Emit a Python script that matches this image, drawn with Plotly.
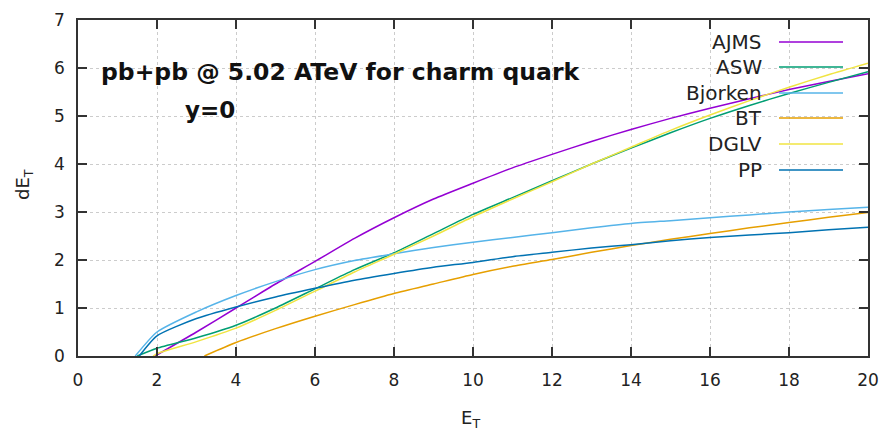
import plotly.graph_objects as go

# ---------------- data ----------------
series_names = ["AJMS", "ASW", "Bjorken", "BT", "DGLV", "PP"]

x_ajms = [1.95, 3, 4, 5, 6, 7, 8, 9, 10, 11, 12, 13, 14, 15, 16, 17, 18, 19, 20]
y_ajms = [0.0, 0.5, 1.0, 1.5, 1.97, 2.45, 2.88, 3.27, 3.6, 3.92, 4.2, 4.47, 4.72, 4.95, 5.16, 5.36, 5.55, 5.72, 5.88]

x_asw = [1.5, 2, 3, 4, 5, 6, 7, 8, 9, 10, 11, 12, 13, 14, 15, 16, 17, 18, 19, 20]
y_asw = [0.0, 0.16, 0.38, 0.64, 1.0, 1.4, 1.8, 2.15, 2.55, 2.95, 3.3, 3.65, 4.0, 4.33, 4.65, 4.95, 5.22, 5.47, 5.7, 5.92]

x_bjorken = [1.45, 2, 3, 4, 5, 6, 7, 8, 9, 10, 11, 12, 13, 14, 15, 16, 17, 18, 19, 20]
y_bjorken = [0.0, 0.5, 0.92, 1.26, 1.55, 1.8, 1.99, 2.13, 2.26, 2.37, 2.47, 2.57, 2.67, 2.76, 2.82, 2.88, 2.94, 3.0, 3.05, 3.1]

x_bt = [3.2, 4, 5, 6, 7, 8, 9, 10, 11, 12, 13, 14, 15, 16, 17, 18, 19, 20]
y_bt = [0.0, 0.28, 0.57, 0.83, 1.07, 1.3, 1.5, 1.7, 1.87, 2.01, 2.16, 2.3, 2.43, 2.55, 2.67, 2.78, 2.89, 2.99]

x_dglv = [1.9, 2, 3, 4, 5, 6, 7, 8, 9, 10, 11, 12, 13, 14, 15, 16, 17, 18, 19, 20]
y_dglv = [0.0, 0.05, 0.3, 0.58, 0.95, 1.35, 1.75, 2.12, 2.5, 2.9, 3.27, 3.63, 4.0, 4.35, 4.7, 5.02, 5.32, 5.6, 5.86, 6.1]

x_pp = [1.55, 2, 3, 4, 5, 6, 7, 8, 9, 10, 11, 12, 13, 14, 15, 16, 17, 18, 19, 20]
y_pp = [0.0, 0.42, 0.78, 1.02, 1.23, 1.41, 1.58, 1.72, 1.85, 1.95, 2.07, 2.16, 2.25, 2.32, 2.4, 2.47, 2.52, 2.57, 2.63, 2.68]

x_ticks = [0, 2, 4, 6, 8, 10, 12, 14, 16, 18, 20]
y_ticks = [0, 1, 2, 3, 4, 5, 6, 7]

colors = ["#9400D3", "#009E73", "#56B4E9", "#E69F00", "#F0E442", "#0072B2"]

all_x = [x_ajms, x_asw, x_bjorken, x_bt, x_dglv, x_pp]
all_y = [y_ajms, y_asw, y_bjorken, y_bt, y_dglv, y_pp]

FONT = "DejaVu Sans"

fig = go.Figure()
for name, xs, ys, c in zip(series_names, all_x, all_y, colors):
    fig.add_trace(go.Scatter(x=xs, y=ys, mode="lines", name=name,
                             line=dict(color=c, width=1.5, shape="spline", smoothing=0.6),
                             showlegend=False))

# plot area in window pixels: x 78..868, y 20..356
W, H = 790.0, 336.0
L = 78.0
B = 356.0


def px(xw):
    return (xw - L) / W


def py(yw):
    return (B - yw) / H


# manual legend: right-aligned text, sample line to its right (gnuplot style)
row_py = [42, 67, 93, 118, 144, 170]
for name, c, yy in zip(series_names, colors, row_py):
    fig.add_annotation(x=px(764), y=py(yy), xref="paper", yref="paper",
                       text=name, showarrow=False, xanchor="right", yanchor="middle",
                       font=dict(family=FONT, size=20, color="#222"))
    fig.add_shape(type="line", xref="paper", yref="paper",
                  x0=px(779), x1=px(843), y0=py(yy), y1=py(yy),
                  line=dict(color=c, width=1.5))

# in-plot labels
fig.add_annotation(x=px(99), y=py(72), xref="paper", yref="paper",
                   text="<b>pb+pb @ 5.02 ATeV for charm quark</b>", showarrow=False,
                   xanchor="left", yanchor="middle", font=dict(family=FONT, size=23.5, color="#111"))
fig.add_annotation(x=px(210), y=py(110), xref="paper", yref="paper",
                   text="<b>y=0</b>", showarrow=False,
                   xanchor="center", yanchor="middle", font=dict(family=FONT, size=23, color="#111"))

# axis titles
fig.add_annotation(x=px(470), y=py(419), xref="paper", yref="paper",
                   text="E<sub>T</sub>", showarrow=False, xanchor="center", yanchor="middle",
                   font=dict(family=FONT, size=18, color="#222"))
fig.add_annotation(x=px(24), y=py(185), xref="paper", yref="paper",
                   text="dE<sub>T</sub>", showarrow=False, xanchor="center", yanchor="middle",
                   textangle=-90, font=dict(family=FONT, size=18, color="#222"))

axis_common = dict(showline=True, linecolor="#333", linewidth=1.5, mirror="ticks",
                   ticks="inside", ticklen=9, tickwidth=1.5, tickcolor="#333",
                   showgrid=True, gridcolor="#cccccc", griddash="dot", gridwidth=1,
                   zeroline=False, automargin=False,
                   tickfont=dict(family=FONT, size=17, color="#222"))

fig.update_xaxes(range=[0, 20], tickvals=x_ticks, ticktext=[str(v) for v in x_ticks],
                 ticklabelstandoff=8, **axis_common)
fig.update_yaxes(range=[0, 7], tickvals=y_ticks, ticktext=[str(v) for v in y_ticks],
                 ticklabelstandoff=8, **axis_common)

fig.update_layout(width=884, height=432, margin=dict(l=78, r=16, t=20, b=76),
                  plot_bgcolor="white", paper_bgcolor="white", showlegend=False)

# remove the default 8px page margin so the figure sits at the window origin
fig.write_html("out.html", config={"displayModeBar": False},
               post_script="document.body.style.margin='0';document.body.style.overflow='hidden';")
